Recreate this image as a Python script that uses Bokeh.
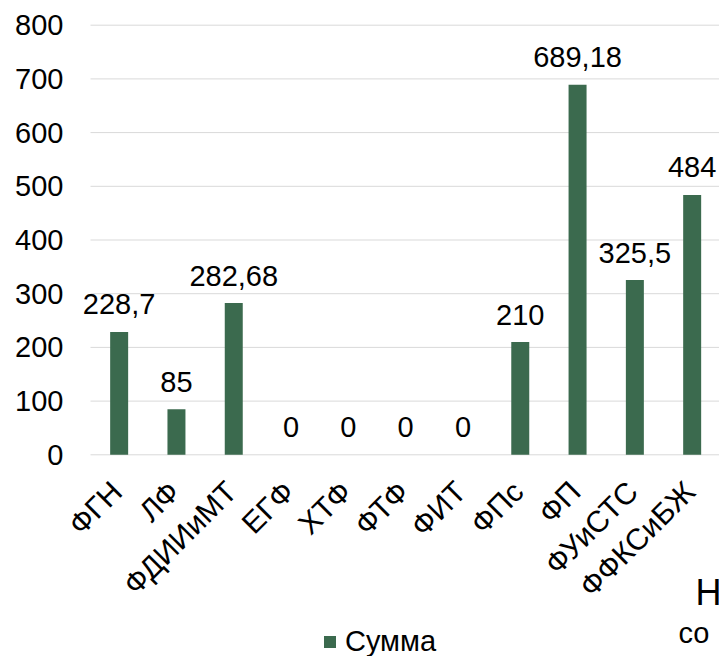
import math
from bokeh.plotting import figure
from bokeh.models import (Range1d, FixedTicker, LabelSet, ColumnDataSource,
                          Legend, LegendItem, Label)
from bokeh.core.properties import value
from bokeh.embed import file_html
from bokeh.resources import INLINE

categories = ["ФГН", "ЛФ", "ФДИИиМТ", "ЕГФ", "ХТФ", "ФТФ", "ФИТ",
              "ФПс", "ФП", "ФУиСТС", "ФФКСиБЖ"]
values = [228.7, 85, 282.68, 0, 0, 0, 0, 210, 689.18, 325.5, 484]
y_ticks = [0, 100, 200, 300, 400, 500, 600, 700, 800]
series_name = "Сумма"
cut_title_1 = "Н"
cut_title_2 = "со"

FONT = "Liberation Sans"
BAR = "#3B6A4E"
GRID = "#D9D9D9"
TXT = "#000000"

X_START, X_END = -2.0707, 10.477
BAND_LEFT = -0.5  # left edge of first category band


def fmt(v):
    return f"{v:g}".replace(".", ",")


xs = list(range(len(categories)))
src = ColumnDataSource(dict(x=xs, top=values, base=[0] * len(xs),
                            label=[fmt(v) for v in values], cat=categories))
grid_src = ColumnDataSource(dict(x0=[BAND_LEFT] * len(y_ticks),
                                 x1=[X_END] * len(y_ticks),
                                 y=y_ticks))

p = figure(width=719, height=656, output_backend="svg", toolbar_location=None,
           x_range=Range1d(X_START, X_END), y_range=Range1d(-375.6, 846.0),
           x_axis_location=None,
           min_border_left=0, min_border_right=0, min_border_top=0,
           min_border_bottom=0)
p.outline_line_color = None
p.background_fill_color = "white"
p.border_fill_color = "white"
p.xgrid.grid_line_color = None
p.ygrid.grid_line_color = None

# horizontal gridlines over the plot area only
p.segment(x0="x0", y0="y", x1="x1", y1="y", source=grid_src,
          line_color=GRID, line_width=1)

r = p.vbar(x="x", top="top", width=0.314, source=src, fill_color=BAR,
           line_color=None)

labels = LabelSet(x="x", y="top", text="label", source=src,
                  text_align="center", text_baseline="alphabetic",
                  y_offset=17.5, text_font=value(FONT), text_font_size="29px",
                  text_color=TXT)
p.add_layout(labels)

cat_labels = LabelSet(x="x", y="base", text="cat", source=src,
                      angle=math.pi / 4, text_align="right",
                      text_baseline="alphabetic", x_offset=5, y_offset=-39,
                      text_font=value(FONT), text_font_size="30px",
                      text_color=TXT)
p.add_layout(cat_labels)

# y axis drawn at the left edge of the category area
p.yaxis.fixed_location = BAND_LEFT
p.yaxis.ticker = FixedTicker(ticks=y_ticks)
p.yaxis.axis_line_color = None
p.yaxis.major_tick_line_color = None
p.yaxis.minor_tick_line_color = None
p.yaxis.major_tick_out = 0
p.yaxis.major_label_standoff = 27
p.yaxis.major_label_text_font = FONT
p.yaxis.major_label_text_font_size = "29px"
p.yaxis.major_label_text_color = TXT

legend = Legend(items=[LegendItem(label=series_name, renderers=[r])],
                location=(322, -2), orientation="horizontal",
                border_line_color=None, background_fill_alpha=0,
                padding=0, margin=0, glyph_width=15, glyph_height=15,
                label_standoff=8, label_text_font=FONT,
                label_text_font_size="29px", label_text_color=TXT,
                label_height=22)
p.add_layout(legend)

p.add_layout(Label(x=695, y=64, x_units="screen", y_units="screen",
                   text=cut_title_1, text_font=FONT, text_font_size="36px",
                   text_color=TXT, text_baseline="alphabetic"))
p.add_layout(Label(x=678, y=23.5, x_units="screen", y_units="screen",
                   text=cut_title_2, text_font=FONT, text_font_size="29px",
                   text_color=TXT, text_baseline="alphabetic"))

open("out.html", "w").write(file_html(p, INLINE))
